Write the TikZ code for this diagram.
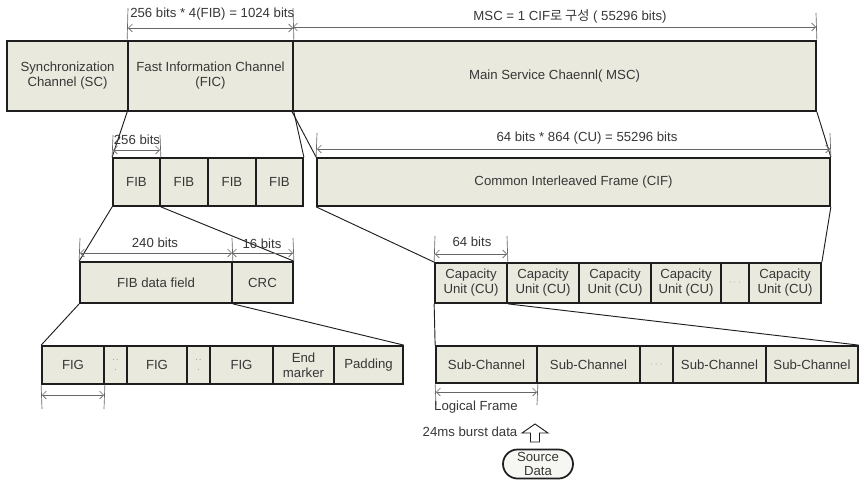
\documentclass[tikz,border=0pt]{standalone}
\usepackage{fontspec}
\setmainfont{Liberation Sans}
\newfontfamily\krfont{Noto Sans CJK KR}
\usetikzlibrary{arrows.meta,shapes.misc}
\definecolor{boxfill}{RGB}{233,233,222}
\definecolor{txt}{RGB}{55,55,55}
\definecolor{edge}{RGB}{30,30,30}
\tikzset{
  cell/.style={draw=edge, line width=1.3pt, fill=boxfill, inner sep=0pt, align=center,
    text=txt, font=\fontsize{9.9}{11.2}\selectfont},
  conn/.style={draw=edge, line width=0.7pt},
  extline/.style={draw=gray!80!black, line width=0.5pt},
  dimline/.style={draw=gray!80!black, line width=0.5pt, {Straight Barb[length=3pt,width=6pt]}-{Straight Barb[length=3pt,width=6pt]}},
  lbl/.style={text=txt, inner sep=0pt, font=\fontsize{9.9}{11.2}\selectfont},
  dots/.style={cell, text=gray, font=\fontsize{6}{6}\selectfont}
}
\newcommand\mycell[7][cell]{\node[#1, minimum width={(#5-#3)*0.75pt}, minimum height={(#6-#4)*0.75pt}] (#2) at ({(#3+#5)/2},{(#4+#6)/2}) {#7};}
\begin{document}
\begin{tikzpicture}[x=0.75pt,y=-0.75pt]
\useasboundingbox (0,0) rectangle (860,479);
% top row
\mycell{sc}{7}{41}{128}{111}{Synchronization\\Channel (SC)}
\mycell{fic}{128}{41}{293}{111}{Fast Information Channel\\(FIC)}
\mycell{msc}{293}{41}{816}{111}{Main Service Chaennl( MSC)}
% second row
\mycell{fib1}{113}{158}{160}{206}{FIB}
\mycell{fib2}{160}{158}{208}{206}{FIB}
\mycell{fib3}{208}{158}{256}{206}{FIB}
\mycell{fib4}{256}{158}{303}{206}{FIB}
\mycell{cif}{317}{158}{830}{206}{Common Interleaved Frame (CIF)}
% third row
\mycell{fdf}{80}{262}{232}{303}{FIB data field}
\mycell{crc}{232}{262}{293}{303}{CRC}
\mycell{cu1}{435}{263}{507}{303}{Capacity\\Unit (CU)}
\mycell{cu2}{507}{263}{579}{303}{Capacity\\Unit (CU)}
\mycell{cu3}{579}{263}{651}{303}{Capacity\\Unit (CU)}
\mycell{cu4}{651}{263}{721}{303}{Capacity\\Unit (CU)}
\mycell[dots]{cud}{721}{263}{749}{303}{$\cdots$}
\mycell{cu5}{749}{263}{821}{303}{Capacity\\Unit (CU)}
% fourth row
\mycell{fig1}{42}{346}{104}{384}{FIG}
\mycell[dots]{figd1}{104}{346}{127}{384}{.\,.\\[1pt].}
\mycell{fig2}{127}{346}{187}{384}{FIG}
\mycell[dots]{figd2}{187}{346}{210}{384}{.\,.\\[1pt].}
\mycell{fig3}{210}{346}{273}{384}{FIG}
\mycell{endm}{273}{346}{334}{384}{End\\marker}
\mycell{pad}{334}{346}{403}{384}{Padding}
\mycell{sub1}{436}{346}{537}{383}{Sub-Channel}
\mycell{sub2}{537}{346}{640}{383}{Sub-Channel}
\mycell[dots]{subd}{640}{346}{673}{383}{$\cdots$}
\mycell{sub3}{673}{346}{766}{383}{Sub-Channel}
\mycell{sub4}{766}{346}{858}{383}{Sub-Channel}
% source
\node[rounded rectangle, draw=edge, line width=1.3pt, fill=boxfill!40, text=txt, inner sep=0pt,
  minimum width=70*0.75pt, minimum height=29*0.75pt, align=center,
  font=\fontsize{9.9}{10.4}\selectfont] (src) at (538,464) {Source\\Data};
% connectors
\draw[conn] (fic.south west) -- (fib1.north west);
\draw[conn] (fic.south east) -- (fib4.north east);
\draw[conn] (msc.south west) -- (cif.north west);
\draw[conn] (msc.south east) -- (cif.north east);
\draw[conn] (fib1.south west) -- (fdf.north west);
\draw[conn] (fib1.south east) -- (crc.north east);
\draw[conn] (cif.south west) -- (cu1.north west);
\draw[conn] (cif.south east) -- (cu5.north east);
\draw[conn] (fdf.south west) -- (fig1.north west);
\draw[conn] (fdf.south east) -- (pad.north east);
\draw[conn] (cu1.south west) -- (sub1.north west);
\draw[conn] (cu1.south east) -- (sub4.north east);
% extension lines and dimensions
\coordinate (t1) at (128,8); \coordinate (t2) at (293,8); \coordinate (t3) at (816,13);
\draw[extline] (t1) -- (fic.north west);
\draw[extline] (t2) -- (fic.north east);
\draw[extline] (t3) -- (msc.north east);
\draw[dimline] (128,28) -- (293,28);
\draw[dimline] (293,27) -- (816,27);
\node[lbl, anchor=west] (d1) at (130,14) {256 bits * 4(FIB) = 1024 bits};
\node[lbl] (d2) at (570,16) {MSC = 1 CIF{\krfont 로 구성} ( 55296 bits)};
\coordinate (f1) at (113,135); \coordinate (f2) at (160,135);
\draw[extline] (f1) -- (fib1.north west);
\draw[extline] (f2) -- (fib1.north east);
\draw[dimline] (113,150) -- (160,150);
\node[lbl] (d3) at (137,140) {256 bits};
\coordinate (c1) at (317,133); \coordinate (c2) at (830,133);
\draw[extline] (c1) -- (cif.north west);
\draw[extline] (c2) -- (cif.north east);
\draw[dimline] (317,149) -- (830,149);
\node[lbl] (d4) at (587,138) {64 bits * 864 (CU) = 55296 bits};
\coordinate (g1) at (80,238); \coordinate (g2) at (232,238); \coordinate (g3) at (293,238);
\draw[extline] (g1) -- (fdf.north west);
\draw[extline] (g2) -- (fdf.north east);
\draw[extline] (g3) -- (crc.north east);
\draw[dimline] (80,253) -- (232,253);
\draw[dimline] (232,253) -- (293,253);
\node[lbl] (d5) at (155,243) {240 bits};
\node[lbl] (d6) at (262,244) {16 bits};
\coordinate (u1) at (435,236); \coordinate (u2) at (507,236);
\draw[extline] (u1) -- (cu1.north west);
\draw[extline] (u2) -- (cu1.north east);
\draw[dimline] (435,254) -- (507,254);
\node[lbl] (d7) at (472,242) {64 bits};
\coordinate (h1) at (42,409); \coordinate (h2) at (104,409);
\draw[extline] (fig1.south west) -- (h1);
\draw[extline] (fig1.south east) -- (h2);
\draw[dimline] (42,395) -- (104,395);
\coordinate (l1) at (436,405); \coordinate (l2) at (537,405);
\draw[extline] (sub1.south west) -- (l1);
\draw[extline] (sub1.south east) -- (l2);
\draw[dimline] (436,392) -- (537,392);
\node[lbl] (d8) at (476,407) {Logical Frame};
\node[lbl] (d9) at (470,432) {24ms burst data};
% hollow up arrow
\draw[edge, line width=0.7pt, fill=white] (535,424) -- (548,433) -- (539.5,433) -- (539.5,442)
  -- (530.5,442) -- (530.5,433) -- (522,433) -- cycle;
\end{tikzpicture}
\end{document}
